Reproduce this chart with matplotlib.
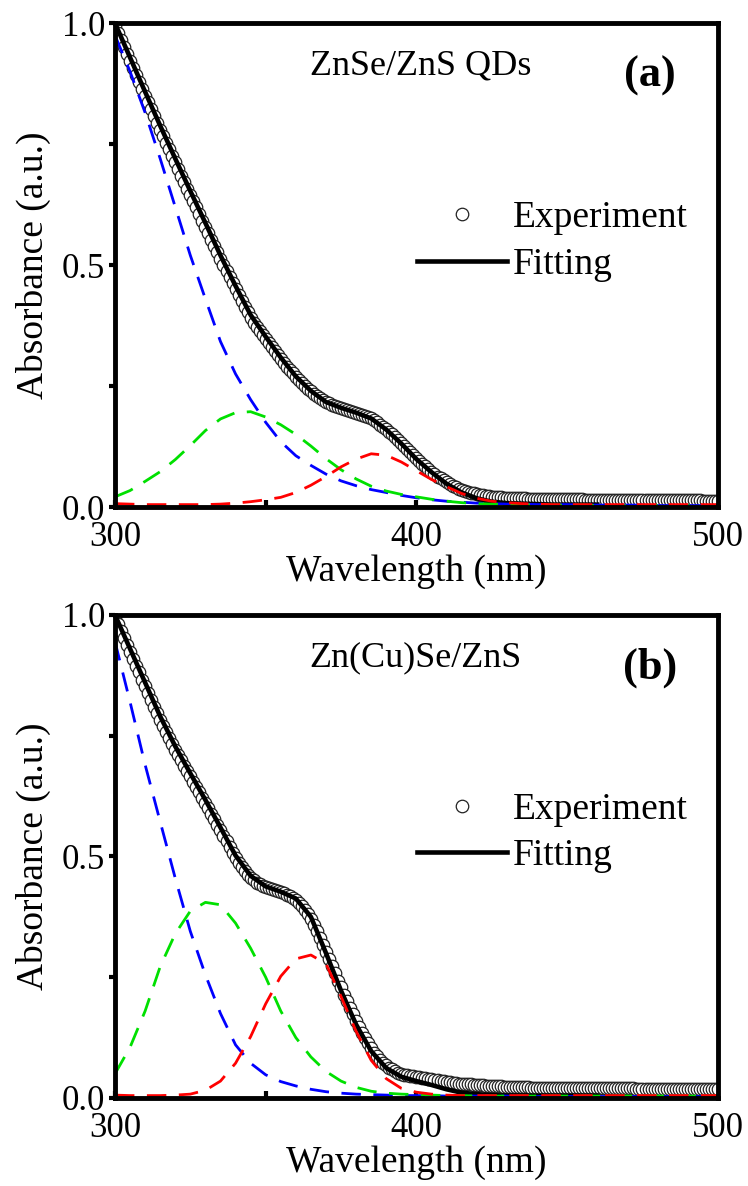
import numpy as np
import matplotlib
matplotlib.use("Agg")
import matplotlib.pyplot as plt
from matplotlib.ticker import MultipleLocator

plt.rcParams['font.family'] = ['Liberation Serif', 'DejaVu Serif']

# wavelength grids (nm)
wl_exp = np.arange(300, 501, 1)
wl_fit = np.arange(300, 461, 5)
wl_comp = np.arange(300, 501, 5)

# ---- panel (a): ZnSe/ZnS QDs ----
exp_a = [
    0.995, 0.980, 0.966, 0.951, 0.936, 0.921, 0.907, 0.893, 0.878, 0.864,
    0.850, 0.836, 0.822, 0.808, 0.794, 0.780, 0.766, 0.753, 0.739, 0.726,
    0.712, 0.699, 0.685, 0.672, 0.658, 0.645, 0.632, 0.619, 0.605, 0.592,
    0.579, 0.566, 0.552, 0.539, 0.526, 0.513, 0.500, 0.488, 0.475, 0.462,
    0.450, 0.438, 0.426, 0.414, 0.402, 0.391, 0.381, 0.372, 0.363, 0.355,
    0.347, 0.338, 0.330, 0.322, 0.314, 0.306, 0.298, 0.290, 0.283, 0.276,
    0.269, 0.262, 0.256, 0.250, 0.244, 0.239, 0.234, 0.229, 0.225, 0.221,
    0.217, 0.214, 0.211, 0.209, 0.207, 0.205, 0.203, 0.201, 0.199, 0.197,
    0.195, 0.193, 0.191, 0.189, 0.186, 0.183, 0.179, 0.175, 0.170, 0.166,
    0.161, 0.155, 0.150, 0.144, 0.138, 0.132, 0.126, 0.120, 0.113, 0.107,
    0.101, 0.095, 0.089, 0.084, 0.078, 0.073, 0.068, 0.063, 0.059, 0.055,
    0.051, 0.047, 0.044, 0.041, 0.038, 0.036, 0.033, 0.031, 0.029, 0.028,
    0.026, 0.025, 0.024, 0.023, 0.022, 0.021, 0.021, 0.020, 0.020, 0.019,
    0.019, 0.019, 0.018, 0.018, 0.018, 0.018, 0.018, 0.017, 0.017, 0.017,
    0.017, 0.017, 0.017, 0.017, 0.017, 0.016, 0.016, 0.016, 0.016, 0.016,
    0.016, 0.016, 0.016, 0.016, 0.016, 0.016, 0.015, 0.015, 0.015, 0.015,
    0.015, 0.015, 0.015, 0.015, 0.015, 0.015, 0.015, 0.015, 0.015, 0.015,
    0.015, 0.015, 0.015, 0.015, 0.014, 0.014, 0.014, 0.014, 0.014, 0.014,
    0.014, 0.014, 0.014, 0.014, 0.014, 0.014, 0.014, 0.014, 0.014, 0.014,
    0.014, 0.014, 0.014, 0.014, 0.014, 0.013, 0.013, 0.013, 0.013, 0.013,
    0.013,
]
fit_a = [
    1.000, 0.929, 0.858, 0.788, 0.720, 0.653, 0.587, 0.520, 0.457, 0.397,
    0.352, 0.309, 0.270, 0.240, 0.217, 0.205, 0.195, 0.183, 0.160, 0.131,
    0.099, 0.072, 0.048, 0.030, 0.018, 0.011, 0.008, 0.007, 0.006, 0.005,
    0.005, 0.005, 0.005,
]
blue_a = [
    0.975, 0.900, 0.815, 0.720, 0.620, 0.520, 0.430, 0.342, 0.275, 0.222,
    0.175, 0.135, 0.106, 0.086, 0.068, 0.054, 0.044, 0.036, 0.030, 0.024,
    0.019, 0.015, 0.012, 0.010, 0.008, 0.007, 0.006, 0.006, 0.005, 0.005,
    0.005, 0.004, 0.004, 0.004, 0.004, 0.004, 0.003, 0.003, 0.003, 0.003,
    0.003,
]
green_a = [
    0.021, 0.034, 0.053, 0.073, 0.098, 0.127, 0.158, 0.182, 0.195, 0.197,
    0.186, 0.170, 0.150, 0.126, 0.100, 0.077, 0.058, 0.043, 0.033, 0.026,
    0.021, 0.016, 0.012, 0.009, 0.007, 0.006, 0.005, 0.005, 0.004, 0.004,
    0.004, 0.004, 0.003, 0.003, 0.003, 0.003, 0.003, 0.003, 0.003, 0.003,
    0.003,
]
red_a = [
    0.007, 0.006, 0.005, 0.005, 0.005, 0.005, 0.005, 0.006, 0.008, 0.011,
    0.015, 0.020, 0.030, 0.045, 0.063, 0.083, 0.099, 0.110, 0.107, 0.093,
    0.075, 0.057, 0.042, 0.028, 0.018, 0.012, 0.009, 0.007, 0.006, 0.005,
    0.005, 0.005, 0.005, 0.005, 0.005, 0.005, 0.005, 0.005, 0.005, 0.005,
    0.005,
]

# ---- panel (b): Zn(Cu)Se/ZnS ----
exp_b = [
    0.995, 0.981, 0.967, 0.953, 0.938, 0.923, 0.909, 0.895, 0.881, 0.866,
    0.852, 0.838, 0.824, 0.810, 0.796, 0.783, 0.770, 0.757, 0.745, 0.733,
    0.721, 0.710, 0.699, 0.688, 0.677, 0.666, 0.655, 0.644, 0.633, 0.622,
    0.611, 0.600, 0.588, 0.577, 0.566, 0.554, 0.543, 0.531, 0.520, 0.508,
    0.497, 0.487, 0.478, 0.470, 0.462, 0.456, 0.451, 0.446, 0.442, 0.439,
    0.436, 0.434, 0.432, 0.430, 0.428, 0.426, 0.424, 0.421, 0.418, 0.414,
    0.410, 0.404, 0.397, 0.389, 0.380, 0.370, 0.358, 0.345, 0.331, 0.317,
    0.303, 0.288, 0.273, 0.258, 0.243, 0.229, 0.214, 0.200, 0.186, 0.173,
    0.160, 0.147, 0.135, 0.124, 0.113, 0.103, 0.094, 0.086, 0.079, 0.073,
    0.068, 0.063, 0.059, 0.055, 0.052, 0.050, 0.048, 0.047, 0.046, 0.045,
    0.044, 0.043, 0.042, 0.041, 0.040, 0.039, 0.038, 0.037, 0.036, 0.035,
    0.034, 0.033, 0.032, 0.031, 0.030, 0.030, 0.029, 0.028, 0.028, 0.027,
    0.027, 0.026, 0.026, 0.025, 0.025, 0.025, 0.024, 0.024, 0.024, 0.023,
    0.023, 0.023, 0.023, 0.022, 0.022, 0.022, 0.022, 0.022, 0.021, 0.021,
    0.021, 0.021, 0.021, 0.021, 0.021, 0.021, 0.021, 0.021, 0.021, 0.021,
    0.021, 0.021, 0.020, 0.020, 0.020, 0.020, 0.020, 0.020, 0.020, 0.020,
    0.020, 0.020, 0.020, 0.020, 0.020, 0.020, 0.020, 0.020, 0.020, 0.020,
    0.020, 0.020, 0.020, 0.019, 0.019, 0.019, 0.019, 0.019, 0.019, 0.019,
    0.019, 0.019, 0.019, 0.019, 0.019, 0.019, 0.019, 0.019, 0.019, 0.019,
    0.019, 0.019, 0.019, 0.019, 0.019, 0.018, 0.018, 0.018, 0.018, 0.018,
    0.018,
]
fit_b = [
    1.000, 0.930, 0.860, 0.790, 0.728, 0.672, 0.617, 0.560, 0.502, 0.460,
    0.438, 0.427, 0.413, 0.375, 0.300, 0.222, 0.152, 0.097, 0.062, 0.044,
    0.035, 0.027, 0.018, 0.011, 0.008, 0.006, 0.005, 0.005, 0.005, 0.005,
    0.005, 0.005, 0.005,
]
blue_b = [
    0.945, 0.820, 0.690, 0.572, 0.455, 0.345, 0.255, 0.175, 0.110, 0.072,
    0.048, 0.034, 0.025, 0.018, 0.013, 0.010, 0.008, 0.007, 0.006, 0.005,
    0.005, 0.005, 0.004, 0.004, 0.004, 0.004, 0.004, 0.003, 0.003, 0.003,
    0.003, 0.003, 0.003, 0.003, 0.003, 0.003, 0.003, 0.003, 0.003, 0.003,
    0.003,
]
green_b = [
    0.050, 0.105, 0.180, 0.272, 0.340, 0.387, 0.405, 0.400, 0.362, 0.310,
    0.250, 0.180, 0.125, 0.085, 0.055, 0.035, 0.022, 0.014, 0.010, 0.008,
    0.007, 0.006, 0.005, 0.005, 0.004, 0.004, 0.004, 0.004, 0.004, 0.004,
    0.004, 0.004, 0.004, 0.004, 0.004, 0.004, 0.004, 0.004, 0.004, 0.004,
    0.004,
]
red_b = [
    0.006, 0.005, 0.005, 0.005, 0.006, 0.008, 0.016, 0.035, 0.072, 0.127,
    0.195, 0.252, 0.288, 0.296, 0.278, 0.210, 0.138, 0.078, 0.040, 0.020,
    0.012, 0.008, 0.006, 0.005, 0.005, 0.005, 0.005, 0.005, 0.005, 0.005,
    0.005, 0.005, 0.005, 0.005, 0.005, 0.005, 0.005, 0.005, 0.005, 0.005,
    0.005,
]


def draw_panel(ax, exp, fit, blue, green, red, sample, tag):
    l_exp, = ax.plot(wl_exp, exp, 'o', ms=9, mfc='white', mec='#222222',
                     mew=0.9, label='Experiment')
    l_fit, = ax.plot(wl_fit, fit, '-', color='black', lw=3.3, label='Fitting')
    dash = (7, 4.5)
    ax.plot(wl_comp, blue, '--', color='#0000ff', lw=2, dashes=dash)
    ax.plot(wl_comp, green, '--', color='#00e000', lw=2, dashes=dash)
    ax.plot(wl_comp, red, '--', color='#ff0000', lw=2, dashes=dash)

    ax.set_xlim(300, 500)
    ax.set_ylim(0, 1.0)
    ax.xaxis.set_major_locator(MultipleLocator(100))
    ax.xaxis.set_minor_locator(MultipleLocator(50))
    ax.yaxis.set_major_locator(MultipleLocator(0.5))
    ax.yaxis.set_minor_locator(MultipleLocator(0.25))
    for s in ax.spines.values():
        s.set_linewidth(3.5)
    ax.tick_params(axis='y', which='both', direction='out', length=4,
                   width=3, labelsize=25, pad=3)
    ax.tick_params(axis='x', which='both', direction='in', length=5,
                   width=3, labelsize=25, pad=10)
    ax.set_xlabel('Wavelength (nm)', fontsize=27, labelpad=0)
    ax.set_ylabel('Absorbance (a.u.)', fontsize=27, labelpad=8)

    ax.text(0.323, 0.893, sample, transform=ax.transAxes, fontsize=26,
            va='baseline', ha='left')
    ax.text(0.887, 0.868, tag, transform=ax.transAxes, fontsize=32,
            fontweight='bold', va='baseline', ha='center')
    ax.legend(handles=[l_exp, l_fit], loc='upper left',
              bbox_to_anchor=(0.501, 0.633), frameon=False, fontsize=27,
              handlelength=2.4, handletextpad=0.15, labelspacing=0.32,
              borderpad=0, borderaxespad=0, numpoints=1)


fig = plt.figure(figsize=(7.48, 11.86), dpi=100)
ax_a = fig.add_axes([0.1537, 0.5725, 0.806, 0.408])
ax_b = fig.add_axes([0.1537, 0.0742, 0.806, 0.4073])

draw_panel(ax_a, exp_a, fit_a, blue_a, green_a, red_a, 'ZnSe/ZnS QDs', '(a)')
draw_panel(ax_b, exp_b, fit_b, blue_b, green_b, red_b, 'Zn(Cu)Se/ZnS', '(b)')

fig.savefig('out.png', dpi=100)
